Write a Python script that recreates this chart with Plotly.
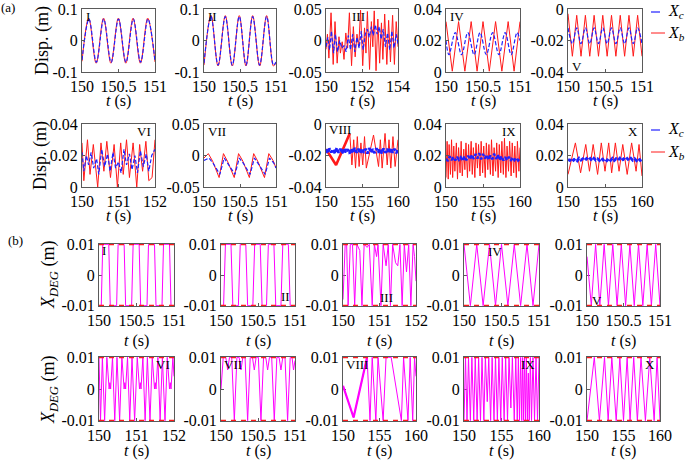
import plotly.graph_objects as go

W, H = 685, 460
FONT = "Liberation Serif"

# ======================= DATA =======================
# ---- (a) displacement, X_b (red) and X_c (blue) ----
tI_b = [150.0, 150.092, 150.194, 150.295, 150.396, 150.498, 150.6, 150.7, 150.8, 150.9, 151.0]
xI_b = [-0.066, 0.071, -0.072, 0.071, -0.072, 0.071, -0.072, 0.071, -0.072, 0.071, -0.068]
tI_c = [150.0, 150.096, 150.197, 150.298, 150.399, 150.5, 150.602, 150.703, 150.803, 150.903, 151.0]
xI_c = [-0.062, 0.068, -0.069, 0.068, -0.069, 0.068, -0.069, 0.068, -0.069, 0.068, -0.066]

tII_b = [150.0, 150.097, 150.195, 150.296, 150.393, 150.49, 150.583, 150.676, 150.773, 150.87, 150.965, 151.0]
xII_b = [-0.078, 0.08, -0.081, 0.079, -0.081, 0.079, -0.081, 0.079, -0.081, 0.079, -0.081, -0.07]
xII_c = [-0.072, 0.077, -0.078, 0.076, -0.078, 0.076, -0.078, 0.076, -0.078, 0.076, -0.078, -0.068]

tIII_b = [150.00, 150.08, 150.16, 150.28, 150.40, 150.50, 150.62, 150.72, 150.80, 150.90,
          151.00, 151.10, 151.20, 151.30, 151.42, 151.52, 151.62, 151.72, 151.82, 151.92,
          152.04, 152.14, 152.22, 152.30, 152.42, 152.52, 152.60, 152.68, 152.78, 152.88,
          152.98, 153.08, 153.16, 153.26, 153.38, 153.48, 153.58, 153.70, 153.80, 153.90, 154.00]
xIII_b = [-0.014, 0.010, -0.028, 0.044, -0.038, 0.030, -0.036, 0.006, -0.020, -0.002,
          -0.030, 0.012, -0.012, 0.044, -0.040, 0.022, -0.026, 0.010, -0.010, 0.048,
          -0.040, 0.020, -0.020, 0.046, -0.046, 0.030, -0.010, 0.047, -0.048, 0.034,
          -0.036, 0.028, -0.030, 0.042, -0.038, 0.032, -0.034, 0.040, -0.038, 0.030, -0.010]
tIII_c = [150.00, 150.10, 150.20, 150.30, 150.42, 150.52, 150.64, 150.76, 150.88, 151.00,
          151.12, 151.24, 151.36, 151.48, 151.60, 151.72, 151.84, 151.96, 152.06, 152.18,
          152.30, 152.40, 152.52, 152.62, 152.74, 152.84, 152.96, 153.06, 153.18, 153.30,
          153.42, 153.54, 153.66, 153.78, 153.90, 154.00]
xIII_c = [-0.010, 0.005, -0.015, 0.015, -0.020, 0.010, -0.018, 0.000, -0.012, -0.008,
          -0.018, 0.008, -0.015, 0.010, -0.018, 0.005, -0.012, 0.015, -0.015, 0.010,
          0.018, 0.005, 0.022, 0.008, 0.025, 0.010, 0.022, 0.002, 0.018, -0.010,
          0.012, -0.015, 0.015, -0.012, 0.010, -0.005]

tIV_b = [150.0, 150.085, 150.17, 150.255, 150.34, 150.42, 150.5, 150.585, 150.67, 150.755, 150.84, 150.92, 151.0]
xIV_b = [0.032, 0.0005, 0.032, 0.0005, 0.032, 0.0005, 0.032, 0.0005, 0.032, 0.0005, 0.032, 0.0005, 0.032]
tIV_c = [150.0, 150.04, 150.125, 150.21, 150.295, 150.38, 150.46, 150.545, 150.63, 150.715, 150.8, 150.88, 150.96, 151.0]
xIV_c = [0.020, 0.011, 0.025, 0.011, 0.025, 0.011, 0.025, 0.011, 0.025, 0.011, 0.025, 0.011, 0.025, 0.020]

tV_b = [150.0, 150.059, 150.118, 150.176, 150.235, 150.294, 150.353, 150.412, 150.47,
        150.529, 150.588, 150.647, 150.706, 150.765, 150.824, 150.882, 150.941, 151.0]
xV_b = [-0.003, -0.030, -0.004, -0.030, -0.004, -0.030, -0.004, -0.030, -0.004,
        -0.030, -0.004, -0.030, -0.004, -0.030, -0.004, -0.030, -0.004, -0.030]
xV_c = [-0.012, -0.022, -0.012, -0.022, -0.012, -0.022, -0.012, -0.022, -0.012,
        -0.022, -0.012, -0.022, -0.012, -0.022, -0.012, -0.022, -0.012, -0.022]

tVI_b = [150.00, 150.05, 150.15, 150.22, 150.31, 150.43, 150.52, 150.60, 150.68, 150.78,
         150.88, 150.97, 151.06, 151.13, 151.22, 151.30, 151.40, 151.50, 151.58, 151.66,
         151.75, 151.83, 151.92, 152.00]
xVI_b = [0.028, 0.004, 0.030, 0.008, 0.027, 0.000, 0.028, 0.010, 0.029, 0.006,
         0.027, 0.000, 0.028, 0.008, 0.030, 0.006, 0.028, 0.000, 0.027, 0.010,
         0.029, 0.004, 0.006, 0.030]
tVI_c = [150.00, 150.05, 150.12, 150.18, 150.25, 150.32, 150.40, 150.46, 150.54, 150.62,
         150.70, 150.77, 150.85, 150.92, 151.00, 151.07, 151.15, 151.22, 151.30, 151.37,
         151.45, 151.52, 151.60, 151.68, 151.76, 151.83, 151.91, 152.00]
xVI_c = [0.022, 0.010, 0.020, 0.014, 0.022, 0.012, 0.018, 0.008, 0.024, 0.013,
         0.021, 0.010, 0.022, 0.012, 0.016, 0.009, 0.024, 0.014, 0.021, 0.011,
         0.020, 0.009, 0.023, 0.013, 0.021, 0.010, 0.020, 0.024]

tVII_b = [150.0, 150.06, 150.12, 150.21, 150.27, 150.33, 150.42, 150.48, 150.54, 150.63,
          150.69, 150.75, 150.84, 150.90, 150.96, 151.0]
xVII_b = [-0.004, 0.003, -0.009, -0.035, 0.003, -0.010, -0.035, 0.003, -0.009, -0.035,
          0.003, -0.010, -0.035, 0.003, -0.008, -0.020]
tVII_c = [150.0, 150.07, 150.13, 150.22, 150.28, 150.34, 150.43, 150.49, 150.55, 150.64,
          150.70, 150.76, 150.85, 150.91, 150.97, 151.0]
xVII_c = [-0.008, -0.004, -0.013, -0.030, -0.004, -0.014, -0.030, -0.004, -0.013, -0.030,
          -0.004, -0.014, -0.030, -0.004, -0.012, -0.020]

tVIII_b = [150.0, 151.4, 153.3, 153.6, 153.85, 154.1, 154.35, 154.6, 154.85, 155.1, 155.35, 155.6,
           156.6, 157.3, 157.55, 157.8, 158.2, 158.5, 158.75, 159.0, 159.3, 159.6, 160.0]
xVIII_b = [-0.016, -0.026, -0.006, -0.026, -0.010, -0.028, -0.008, -0.027, -0.012, -0.026, -0.008, -0.028,
           -0.007, -0.027, -0.010, -0.028, -0.006, -0.026, -0.010, -0.028, -0.008, -0.027, -0.010]

t_band = [150.0, 150.25, 150.5, 150.75, 151.0, 151.25, 151.5, 151.75, 152.0, 152.25,
          152.5, 152.75, 153.0, 153.25, 153.5, 153.75, 154.0, 154.25, 154.5, 154.75,
          155.0, 155.25, 155.5, 155.75, 156.0, 156.25, 156.5, 156.75, 157.0, 157.25,
          157.5, 157.75, 158.0, 158.25, 158.5, 158.75, 159.0, 159.25, 159.5, 159.75, 160.0]
xVIII_c = [-0.0160, -0.0185, -0.0155, -0.0180, -0.0160, -0.0188, -0.0152, -0.0182, -0.0158, -0.0186,
           -0.0154, -0.0180, -0.0160, -0.0188, -0.0156, -0.0184, -0.0152, -0.0182, -0.0158, -0.0186,
           -0.0155, -0.0183, -0.0157, -0.0188, -0.0153, -0.0181, -0.0159, -0.0185, -0.0154, -0.0182,
           -0.0156, -0.0187, -0.0155, -0.0183, -0.0158, -0.0186, -0.0153, -0.0182, -0.0157, -0.0185, -0.0165]

tIX_b = [150.0, 150.15, 150.3, 150.42, 150.6, 150.75, 150.9, 151.05, 151.2, 151.4,
         151.55, 151.7, 151.9, 152.05, 152.2, 152.4, 152.55, 152.7, 152.9, 153.05,
         153.2, 153.4, 153.55, 153.7, 153.9, 154.05, 154.25, 154.4, 154.6, 154.75,
         154.95, 155.1, 155.3, 155.45, 155.65, 155.8, 156.0, 156.15, 156.35, 156.5,
         156.7, 156.85, 157.05, 157.2, 157.4, 157.55, 157.75, 157.9, 158.1, 158.25,
         158.45, 158.6, 158.8, 158.95, 159.15, 159.3, 159.5, 159.65, 159.85, 160.0]
xIX_b = [0.006, 0.029, 0.005, 0.027, 0.008, 0.030, 0.006, 0.026, 0.010, 0.028,
         0.005, 0.025, 0.009, 0.029, 0.007, 0.024, 0.011, 0.028, 0.006, 0.027,
         0.010, 0.029, 0.008, 0.025, 0.006, 0.028, 0.012, 0.027, 0.007, 0.029,
         0.009, 0.026, 0.006, 0.028, 0.011, 0.027, 0.008, 0.030, 0.007, 0.025,
         0.010, 0.028, 0.006, 0.027, 0.009, 0.029, 0.008, 0.031, 0.006, 0.026,
         0.010, 0.029, 0.007, 0.028, 0.009, 0.026, 0.006, 0.029, 0.010, 0.025]
xIX_c = [0.0180, 0.0165, 0.0195, 0.0170, 0.0190, 0.0168, 0.0192, 0.0172, 0.0188, 0.0165,
         0.0195, 0.0170, 0.0198, 0.0175, 0.0205, 0.0178, 0.0210, 0.0180, 0.0215, 0.0175,
         0.0210, 0.0180, 0.0205, 0.0172, 0.0200, 0.0176, 0.0212, 0.0178, 0.0205, 0.0170,
         0.0195, 0.0168, 0.0190, 0.0170, 0.0192, 0.0166, 0.0188, 0.0170, 0.0185, 0.0168, 0.0180]

tX_b = [150.0, 151.0, 151.7, 152.4, 152.9, 153.4, 154.0, 154.5, 155.0, 155.5,
        155.9, 156.4, 156.9, 157.4, 158.0, 158.6, 159.2, 159.6, 160.0]
xX_b = [0.008, 0.028, 0.009, 0.027, 0.010, 0.027, 0.008, 0.028, 0.010, 0.028,
        0.009, 0.028, 0.010, 0.027, 0.008, 0.028, 0.010, 0.027, 0.007]
xX_c = [0.0175, 0.0168, 0.0182, 0.0170, 0.0180, 0.0167, 0.0183, 0.0171, 0.0179, 0.0168,
        0.0181, 0.0169, 0.0180, 0.0166, 0.0182, 0.0170, 0.0179, 0.0168, 0.0183, 0.0171,
        0.0180, 0.0167, 0.0181, 0.0169, 0.0182, 0.0168, 0.0180, 0.0170, 0.0183, 0.0167,
        0.0179, 0.0169, 0.0181, 0.0168, 0.0182, 0.0170, 0.0180, 0.0167, 0.0181, 0.0169, 0.0176]

# ---- (b) X_DEG (magenta) ----
DEG_LIMITS = [-0.01, 0.01]

tI_d = [150.0, 150.03, 150.05, 150.13, 150.15, 150.235, 150.255, 150.335, 150.355, 150.435, 150.455,
        150.535, 150.555, 150.64, 150.66, 150.74, 150.76, 150.84, 150.86, 150.94, 150.96, 151.0]
xI_d = [-0.01, -0.01, 0.01, 0.01, -0.01, -0.01, 0.01, 0.01, -0.01, -0.01, 0.01,
        0.01, -0.01, -0.01, 0.01, 0.01, -0.01, -0.01, 0.01, 0.01, -0.01, -0.01]

tII_d = [150.0, 150.035, 150.06, 150.135, 150.16, 150.235, 150.26, 150.335, 150.36, 150.43, 150.455,
         150.53, 150.555, 150.615, 150.64, 150.715, 150.74, 150.81, 150.835, 150.91, 150.935, 151.0]
xII_d = [-0.01, -0.01, 0.01, 0.01, -0.01, -0.01, 0.01, 0.01, -0.01, -0.01, 0.01,
         0.01, -0.01, -0.01, 0.01, 0.01, -0.01, -0.01, 0.01, 0.01, -0.01, -0.01]

tIII_d = [150.00, 150.06, 150.10, 150.14, 150.20, 150.26, 150.32, 150.38, 150.46, 150.52,
          150.58, 150.66, 150.72, 150.80, 150.86, 150.92, 150.96, 151.04, 151.10, 151.18,
          151.24, 151.30, 151.36, 151.44, 151.50, 151.56, 151.62, 151.68, 151.74, 151.80,
          151.86, 151.92, 151.96, 152.00]
xIII_d = [-0.008, 0.010, 0.010, -0.010, 0.010, 0.010, -0.010, 0.010, 0.008, -0.010,
          0.010, 0.009, 0.010, -0.010, 0.010, 0.006, 0.010, -0.010, 0.010, 0.003,
          0.010, -0.010, 0.010, 0.004, 0.003, 0.010, -0.010, 0.010, 0.001, 0.010,
          -0.010, 0.010, 0.006, -0.002]

xIV_d = [0.01, -0.01, 0.01, -0.01, 0.01, -0.01, 0.01, -0.01, 0.01, -0.01, 0.01, -0.01, 0.01]

xV_d = [0.006, -0.01, 0.01, -0.01, 0.01, -0.01, 0.01, -0.01, 0.01,
        -0.01, 0.01, -0.01, 0.01, -0.01, 0.01, -0.01, 0.01, -0.01]

tVI_d = [150.00, 150.04, 150.09, 150.15, 150.21, 150.27, 150.29, 150.31, 150.36, 150.42,
         150.48, 150.55, 150.61, 150.67, 150.69, 150.71, 150.76, 150.82, 150.88, 150.95,
         151.02, 151.08, 151.10, 151.12, 151.17, 151.23, 151.29, 151.36, 151.42, 151.48,
         151.50, 151.52, 151.57, 151.63, 151.69, 151.76, 151.82, 151.88, 151.90, 151.92,
         151.97, 152.00]
xVI_d = [0.010, -0.010, 0.010, -0.010, 0.010, 0.000, 0.002, 0.000, 0.010, -0.010,
         0.010, -0.010, 0.010, 0.000, 0.002, 0.000, 0.010, -0.010, 0.010, -0.010,
         0.010, 0.000, 0.002, 0.000, 0.010, -0.010, 0.010, -0.010, 0.010, 0.000,
         0.002, 0.000, 0.010, -0.010, 0.010, -0.010, 0.010, 0.000, 0.002, 0.000,
         0.010, 0.004]

tVII_d = [150.0, 150.03, 150.065, 150.09, 150.115, 150.145, 150.18, 150.215, 150.245, 150.27,
          150.295, 150.325, 150.36, 150.395, 150.425, 150.45, 150.475, 150.505, 150.54, 150.575,
          150.605, 150.63, 150.655, 150.685, 150.72, 150.755, 150.785, 150.81, 150.835, 150.865,
          150.9, 150.935, 150.96, 150.98, 151.0]
xVII_d = [0.0, 0.01, 0.01, 0.006, 0.01, 0.01, -0.01, 0.01, 0.01, 0.006,
          0.01, 0.01, -0.01, 0.01, 0.01, 0.006, 0.01, 0.01, -0.01, 0.01,
          0.01, 0.006, 0.01, 0.01, -0.01, 0.01, 0.01, 0.006, 0.01, 0.01,
          -0.01, 0.01, 0.01, 0.006, 0.009]

tVIII_d = [150.0, 151.45, 153.3, 153.7, 154.0, 154.5, 154.8, 155.5, 155.9, 156.6,
           158.0, 158.3, 158.9, 159.2, 159.55, 159.8, 160.0]
xVIII_d = [0.001, -0.009, 0.01, -0.01, 0.01, -0.01, 0.01, -0.01, 0.01, 0.01,
           -0.01, 0.01, -0.01, 0.01, -0.01, 0.01, 0.004]

tIX_d = [150.0, 150.2, 150.4, 150.6, 150.85, 151.05, 151.3, 151.5, 151.75, 151.95,
         152.2, 152.4, 152.65, 152.85, 153.1, 153.3, 153.55, 153.75, 154.0, 154.2,
         154.45, 154.65, 154.9, 155.1, 155.35, 155.55, 155.8, 156.0, 156.25, 156.45,
         156.7, 156.9, 157.1, 157.25, 157.4, 157.55, 157.7, 157.82, 157.95, 158.08,
         158.2, 158.32, 158.45, 158.58, 158.7, 158.85, 159.0, 159.2, 159.4, 159.6,
         159.8, 160.0]
xIX_d = [-0.01, 0.01, -0.01, 0.01, -0.01, 0.01, -0.01, 0.01, -0.01, 0.01,
         -0.01, 0.01, -0.01, 0.01, -0.004, 0.01, -0.01, 0.01, -0.01, 0.01,
         -0.01, 0.01, -0.01, 0.01, -0.01, 0.01, -0.01, 0.01, -0.006, 0.01,
         -0.01, 0.01, -0.01, 0.01, -0.01, 0.01, -0.01, 0.01, -0.01, 0.01,
         -0.01, 0.01, -0.01, 0.005, -0.01, 0.01, -0.01, 0.01, -0.01, 0.01,
         -0.01, 0.01]

xX_d = [-0.01, 0.01, -0.01, 0.01, -0.01, 0.01, -0.01, 0.01, -0.01, 0.01,
        -0.01, 0.01, -0.01, 0.01, -0.01, 0.01, -0.01, 0.01, -0.01]

# tick labels
T1 = ([150, 150.5, 151], ["150", "150.5", "151"])
T2 = ([150, 151, 152], ["150", "151", "152"])
T4 = ([150, 152, 154], ["150", "152", "154"])
T10 = ([150, 155, 160], ["150", "155", "160"])
Y01 = ([-0.1, 0, 0.1], ["-0.1", "0", "0.1"])
Y05 = ([-0.05, 0, 0.05], ["-0.05", "0", "0.05"])
Y04p = ([0, 0.02, 0.04], ["0", "0.02", "0.04"])
Y04n = ([-0.04, -0.02, 0], ["-0.04", "-0.02", "0"])
Y001 = ([-0.01, 0, 0.01], ["-0.01", "0", "0.01"])
numerals = ["I", "II", "III", "IV", "V", "VI", "VII", "VIII", "IX", "X"]

# ======================= LAYOUT (pixel boxes) =======================
XA = [(82, 155), (204, 276), (326, 398), (446, 520), (568, 642)]
YA = [(9, 72), (124, 187)]
XB = [(99, 174), (221, 295), (343, 416), (464, 539), (587, 660)]
YB = [(244, 306), (357, 421)]

RED = "#ff1a1a"
BLUE = "#2020ff"
MAG = "#ff00ff"
FRAME = "#5a5a5a"

fig = go.Figure()
layout = {}
annotations = []
shapes = []


def px(x):
    return x / W


def py(y):
    return 1 - y / H


def add_axes(n, xbox, ybox, xr, xt, yr, yt, layer="above traces"):
    xs = "x" if n == 1 else f"x{n}"
    ys = "y" if n == 1 else f"y{n}"
    common = dict(showline=True, mirror=True, linecolor=FRAME, linewidth=1,
                  ticks="inside", ticklen=3, tickcolor=FRAME, showgrid=False,
                  zeroline=False, tickfont=dict(family=FONT, size=16, color="black"),
                  fixedrange=True, automargin=False, layer=layer)
    layout["xaxis" if n == 1 else f"xaxis{n}"] = dict(
        domain=[px(xbox[0]), px(xbox[1])], range=xr, tickvals=xt[0], ticktext=xt[1],
        anchor=ys, **common)
    layout["yaxis" if n == 1 else f"yaxis{n}"] = dict(
        domain=[py(ybox[1]), py(ybox[0])], range=yr, tickvals=yt[0], ticktext=yt[1],
        anchor=xs, **common)
    return xs, ys


def line(xs, ys, t, v, color, width=1.0, dash=None, shape="linear"):
    fig.add_trace(go.Scatter(x=t, y=v, xaxis=xs, yaxis=ys, mode="lines",
                             line=dict(color=color, width=width, dash=dash, shape=shape),
                             showlegend=False, hoverinfo="skip"))


DASH = "4px,2px"

a_specs = [
    ([150, 151], T1, [-0.1, 0.1], Y01, tI_b, xI_b, tI_c, xI_c, "spline"),
    ([150, 151], T1, [-0.1, 0.1], Y01, tII_b, xII_b, tII_b, xII_c, "spline"),
    ([150, 154], T4, [-0.05, 0.05], Y05, tIII_b, xIII_b, tIII_c, xIII_c, "linear"),
    ([150, 151], T1, [0, 0.04], Y04p, tIV_b, xIV_b, tIV_c, xIV_c, "linear"),
    ([150, 151], T1, [-0.04, 0], Y04n, tV_b, xV_b, tV_b, xV_c, "linear"),
    ([150, 152], T2, [0, 0.04], Y04p, tVI_b, xVI_b, tVI_c, xVI_c, "linear"),
    ([150, 151], T1, [-0.05, 0.05], Y05, tVII_b, xVII_b, tVII_c, xVII_c, "linear"),
    ([150, 160], T10, [-0.04, 0], Y04n, tVIII_b, xVIII_b, t_band, xVIII_c, "linear"),
    ([150, 160], T10, [0, 0.04], Y04p, tIX_b, xIX_b, t_band, xIX_c, "linear"),
    ([150, 160], T10, [0, 0.04], Y04p, tX_b, xX_b, t_band, xX_c, "linear"),
]
blue_shape = ["spline", "spline", "linear", "spline", "spline", "linear", "linear", "linear", "linear", "linear"]
blue_width = [1.2, 1.2, 1.2, 1.2, 1.2, 1.2, 1.2, 2.8, 2.4, 2.8]

for i, (xr, xt, yr, yt, tb, xb, tc, xc, shp) in enumerate(a_specs):
    n = i + 1
    row = i // 5
    col = i % 5
    xs, ys = add_axes(n, XA[col], YA[row], xr, xt, yr, yt)
    line(xs, ys, tb, xb, RED, 1.0, None, shp)
    if i == 7:
        line(xs, ys, tb[:3], xb[:3], RED, 2.6)
    line(xs, ys, tc, xc, BLUE, blue_width[i], DASH, blue_shape[i])

b_specs = [
    ([150, 151], T1, tI_d, xI_d),
    ([150, 151], T1, tII_d, xII_d),
    ([150, 152], T2, tIII_d, xIII_d),
    ([150, 151], T1, tIV_b, xIV_d),
    ([150, 151], T1, tV_b, xV_d),
    ([150, 152], T2, tVI_d, xVI_d),
    ([150, 151], T1, tVII_d, xVII_d),
    ([150, 160], T10, tVIII_d, xVIII_d),
    ([150, 160], T10, tIX_d, xIX_d),
    ([150, 160], T10, tX_b, xX_d),
]
for i, (xr, xt, td, xd) in enumerate(b_specs):
    n = 11 + i
    row = i // 5
    col = i % 5
    xs, ys = add_axes(n, XB[col], YB[row], xr, xt, [-0.0101, 0.0101], Y001, layer="below traces")
    line(xs, ys, td, xd, MAG, 1.0)
    if i == 7:
        line(xs, ys, td[:3], xd[:3], MAG, 2.2)
    for lim in DEG_LIMITS:
        line(xs, ys, xr, [lim, lim], RED, 1.8, "5px,5px")


def ann(x, y, text, size=16, xanchor="center", yanchor="middle", angle=0):
    annotations.append(dict(x=px(x), y=py(y), xref="paper", yref="paper", text=text,
                            showarrow=False, xanchor=xanchor, yanchor=yanchor, textangle=angle,
                            font=dict(family=FONT, size=size, color="black")))


T_TITLE = "<i>t</i> (s)"
for yy in [101, 216]:
    for c in range(5):
        ann((XA[c][0] + XA[c][1]) / 2, yy, T_TITLE)
for yy in [341, 451]:
    for c in range(5):
        ann((XB[c][0] + XB[c][1]) / 2, yy, T_TITLE)

ann(42, 41, "Disp. (m)", size=18, angle=-90)
ann(40, 156, "Disp. (m)", size=18, angle=-90)
ann(49, 275, "<i>X</i><sub><i>DEG</i></sub> (m)", size=18, angle=-90)
ann(49, 390, "<i>X</i><sub><i>DEG</i></sub> (m)", size=18, angle=-90)
ann(8, 7, "(a)", size=13)
ann(16, 240, "(b)", size=13)

num_pos = [
    (84, 16, "left"), (206, 16, "left"), (358, 16, "center"), (448, 16, "left"), (570, 66, "left"),
    (153, 131, "right"), (206, 131, "left"), (327, 130, "left"), (518, 131, "right"), (640, 131, "right"),
    (100, 251, "left"), (292, 296, "right"), (378, 297, "left"), (486, 252, "left"), (590, 300, "left"),
    (172, 364, "right"), (222, 364, "left"), (344, 364, "left"), (537, 364, "right"), (657, 364, "right"),
]
for k, (x, y, xa) in enumerate(num_pos):
    ann(x, y, numerals[k % 10], size=13, xanchor=xa)

for (yc, yb2) in [(12, 33), (130, 152)]:
    shapes.append(dict(type="line", xref="paper", yref="paper", x0=px(651), x1=px(665),
                       y0=py(yc), y1=py(yc), line=dict(color=BLUE, width=1.2, dash="dash")))
    shapes.append(dict(type="line", xref="paper", yref="paper", x0=px(651), x1=px(665),
                       y0=py(yb2), y1=py(yb2), line=dict(color=RED, width=1.0)))
    ann(666, yc, "<i>X</i><sub><i>c</i></sub>", size=16, xanchor="left")
    ann(666, yb2, "<i>X</i><sub><i>b</i></sub>", size=16, xanchor="left")

fig.update_layout(width=W, height=H, margin=dict(l=0, r=0, t=0, b=0, autoexpand=False),
                  paper_bgcolor="white", plot_bgcolor="white", showlegend=False,
                  annotations=annotations, shapes=shapes, **layout)
fig.write_html("out.html", config={"displayModeBar": False},
               post_script="document.body.style.margin='0px';document.body.style.padding='0px';")
